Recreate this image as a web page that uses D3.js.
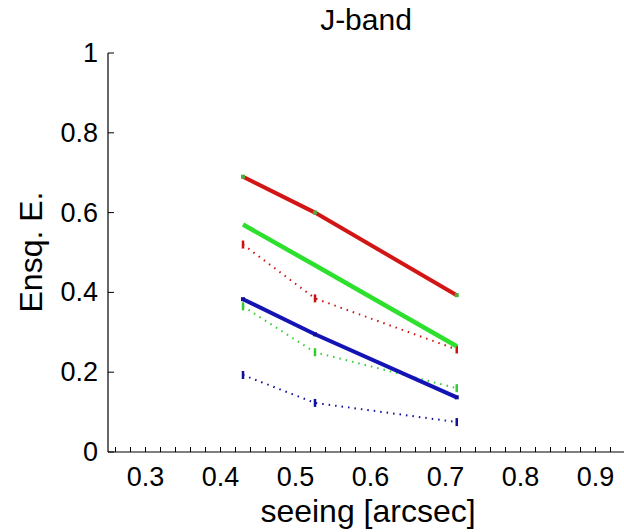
<!DOCTYPE html>
<html>
<head>
<meta charset="utf-8">
<script src="https://cdn.jsdelivr.net/npm/d3@7"></script>
<style>
body{margin:0;background:#fff}
text{font-family:"Liberation Sans",Arial,sans-serif;fill:#000}
</style>
</head>
<body>
<div id="chart"></div>
<script>
var width = 624
var height = 532

// seeing values (x) shared by every curve
var seeing = [0.43, 0.526, 0.715]

// ensquared energy per curve
var redSolid = [0.69, 0.60, 0.393]
var greenSolid = [0.57, 0.468, 0.265]
var blueSolid = [0.383, 0.295, 0.137]
var redDotted = [0.52, 0.385, 0.257]
var greenDotted = [0.365, 0.25, 0.16]
var blueDotted = [0.193, 0.123, 0.075]

var xTicks = [0.3, 0.4, 0.5, 0.6, 0.7, 0.8, 0.9]
var xMinor = d3.range(0.26, 0.95, 0.02)
var yTicks = [0, 0.2, 0.4, 0.6, 0.8, 1]

var series = [
  {vals: redDotted, color: "#cc1111", dotted: true},
  {vals: greenDotted, color: "#33cc33", dotted: true},
  {vals: blueDotted, color: "#10109a", dotted: true},
  {vals: redSolid, color: "#d21616", dotted: false, w: 4, mark: "#4caf3a"},
  {vals: greenSolid, color: "#2ee02e", dotted: false, w: 4.5},
  {vals: blueSolid, color: "#1414b4", dotted: false, w: 4, mark: "#10109a"}
]

var svg = d3.select("#chart").append("svg")
  .attr("width", width)
  .attr("height", height)

var x = d3.scaleLinear().domain([0.25, 0.95]).range([108, 633])
var y = d3.scaleLinear().domain([0, 1]).range([452, 53])

// axes (MATLAB style, ticks pointing in)
var xAxis = svg.append("g")
  .attr("transform", "translate(0," + y(0) + ")")
xAxis.append("line")
  .attr("x1", x(0.25)).attr("x2", x(0.95))
  .attr("stroke", "#000").attr("stroke-width", 1.2)
xAxis.selectAll(".minor").data(xMinor).enter().append("line")
  .attr("x1", d => x(d)).attr("x2", d => x(d))
  .attr("y1", 0).attr("y2", -5)
  .attr("stroke", "#000").attr("stroke-width", 1)
xAxis.selectAll(".lbl").data(xTicks).enter().append("text")
  .attr("x", d => x(d))
  .attr("y", 34)
  .attr("text-anchor", "middle")
  .style("font-size", "27px")
  .text(d => d)

var yAxis = svg.append("g")
  .attr("transform", "translate(" + x(0.25) + ",0)")
yAxis.append("line")
  .attr("y1", y(0)).attr("y2", y(1))
  .attr("stroke", "#000").attr("stroke-width", 1.2)
yAxis.selectAll(".tk").data(yTicks).enter().append("line")
  .attr("y1", d => y(d)).attr("y2", d => y(d))
  .attr("x1", 0).attr("x2", 6)
  .attr("stroke", "#000").attr("stroke-width", 1)
yAxis.selectAll(".lbl").data(yTicks).enter().append("text")
  .attr("x", -10)
  .attr("y", d => y(d) + 9)
  .attr("text-anchor", "end")
  .style("font-size", "27px")
  .text(d => d)

// labels
svg.append("text")
  .attr("x", 366).attr("y", 30)
  .attr("text-anchor", "middle")
  .style("font-size", "30px")
  .text("J-band")

svg.append("text")
  .attr("x", 368).attr("y", 522)
  .attr("text-anchor", "middle")
  .style("font-size", "32px")
  .text("seeing [arcsec]")

svg.append("text")
  .attr("transform", "translate(42,252)rotate(-90)")
  .attr("text-anchor", "middle")
  .style("font-size", "32px")
  .text("Ensq. E.")

// curves
var line = d3.line()
  .x((d, i) => x(seeing[i]))
  .y(d => y(d))

series.forEach(function(s){
  svg.append("path")
    .datum(s.vals)
    .attr("d", line)
    .attr("fill", "none")
    .attr("stroke", s.color)
    .attr("stroke-width", s.dotted ? 2 : s.w)
    .attr("stroke-dasharray", s.dotted ? "1.5,5" : null)

  if (s.dotted) {
    svg.selectAll(null).data(s.vals).enter().append("line")
      .attr("x1", (d, i) => x(seeing[i])).attr("x2", (d, i) => x(seeing[i]))
      .attr("y1", d => y(d) - 4).attr("y2", d => y(d) + 4)
      .attr("stroke", s.color).attr("stroke-width", 2.5)
  } else if (s.mark) {
    svg.selectAll(null).data(s.vals).enter().append("rect")
      .attr("x", (d, i) => x(seeing[i]) - 2).attr("y", d => y(d) - 2)
      .attr("width", 4).attr("height", 4)
      .attr("fill", s.mark)
  }
})
</script>
</body>
</html>
